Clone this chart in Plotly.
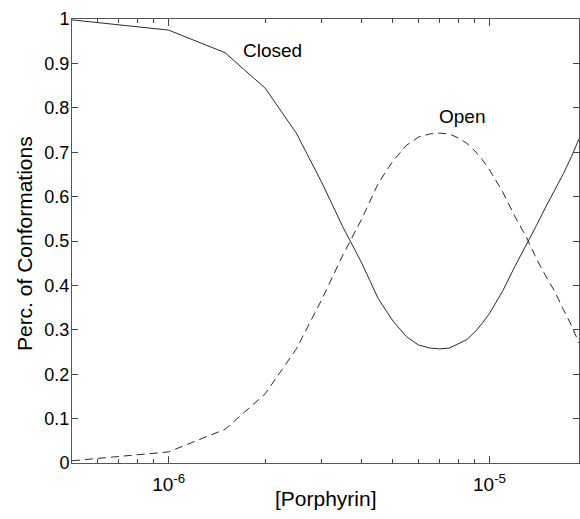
import plotly.graph_objects as go
import math

# Data (concentration in M)
conc_uM = [0.5, 1, 1.5, 2, 2.5, 3, 3.5, 4, 4.5, 5, 5.5, 6, 6.5, 7, 7.5, 8, 8.5, 9, 9.5, 10,
           11, 12, 13, 14, 15, 16, 17, 18, 19]
closed = [0.998, 0.975, 0.924, 0.844, 0.743, 0.632, 0.530, 0.450, 0.370, 0.320, 0.285, 0.266,
          0.259, 0.257, 0.259, 0.268, 0.278, 0.295, 0.315, 0.337,
          0.388, 0.443, 0.490, 0.535, 0.578, 0.615, 0.652, 0.690, 0.730]
open_ = [0.005, 0.025, 0.076, 0.156, 0.257, 0.368, 0.470, 0.550, 0.630, 0.680, 0.715, 0.734,
         0.741, 0.743, 0.741, 0.732, 0.720, 0.703, 0.683, 0.660,
         0.610, 0.555, 0.510, 0.460, 0.420, 0.385, 0.345, 0.310, 0.270]
x = [c * 1e-6 for c in conc_uM]

x_major = [1e-6, 1e-5]
x_major_text = ["10<sup>-6</sup>", "10<sup>-5</sup>"]
x_minor = [k * 1e-7 for k in range(5, 10)] + [k * 1e-6 for k in range(2, 10)] + [2e-5]
y_ticks = [0, 0.1, 0.2, 0.3, 0.4, 0.5, 0.6, 0.7, 0.8, 0.9, 1]
y_text = ["0", "0.1", "0.2", "0.3", "0.4", "0.5", "0.6", "0.7", "0.8", "0.9", "1"]

fig = go.Figure()
fig.add_trace(go.Scatter(x=x, y=closed, mode="lines", name="Closed",
                         line=dict(color="#2a2a2a", width=1)))
fig.add_trace(go.Scatter(x=x, y=open_, mode="lines", name="Open",
                         line=dict(color="#2a2a2a", width=1, dash="8px,5px")))

font = "Liberation Sans, Arial, sans-serif"
fig.update_layout(
    width=580, height=519,
    margin=dict(l=72, r=1, t=19, b=56),
    paper_bgcolor="white", plot_bgcolor="white",
    showlegend=False,
    font=dict(family=font, size=18, color="black"),
    xaxis=dict(
        type="log", range=[math.log10(5e-7), math.log10(1.9e-5)],
        tickmode="array", tickvals=x_major, ticktext=x_major_text,
        ticks="inside", ticklen=7, tickcolor="#444", tickwidth=1,
        minor=dict(tickmode="array", tickvals=x_minor, ticks="inside", ticklen=4, tickcolor="#444"),
        showgrid=False, zeroline=False,
        showline=True, linecolor="#555", linewidth=1, mirror="ticks",
        tickfont=dict(size=19, family=font),
        ticklabelstandoff=4,
    ),
    yaxis=dict(
        range=[0, 1], tickmode="array", tickvals=y_ticks, ticktext=y_text,
        ticks="inside", ticklen=6, tickcolor="#444", tickwidth=1,
        showgrid=False, zeroline=False,
        showline=True, linecolor="#555", linewidth=1, mirror="ticks",
        tickfont=dict(size=18, family=font),
        ticklabelstandoff=-2,
    ),
    annotations=[
        dict(text="Perc. of Conformations", xref="paper", yref="paper",
             x=-0.095, y=0.495, textangle=-90, showarrow=False,
             font=dict(size=21, family=font), xanchor="center", yanchor="middle"),
        dict(text="[Porphyrin]", xref="paper", yref="paper",
             x=0.5, y=-0.079, showarrow=False,
             font=dict(size=21, family=font), xanchor="center", yanchor="middle"),
        dict(text="Closed", x=math.log10(2.1e-6), y=0.929, xref="x", yref="y",
             showarrow=False, font=dict(size=19, family=font)),
        dict(text="Open", x=math.log10(8.2e-6), y=0.780, xref="x", yref="y",
             showarrow=False, font=dict(size=19, family=font)),
    ],
)

fig.write_html("out.html")
